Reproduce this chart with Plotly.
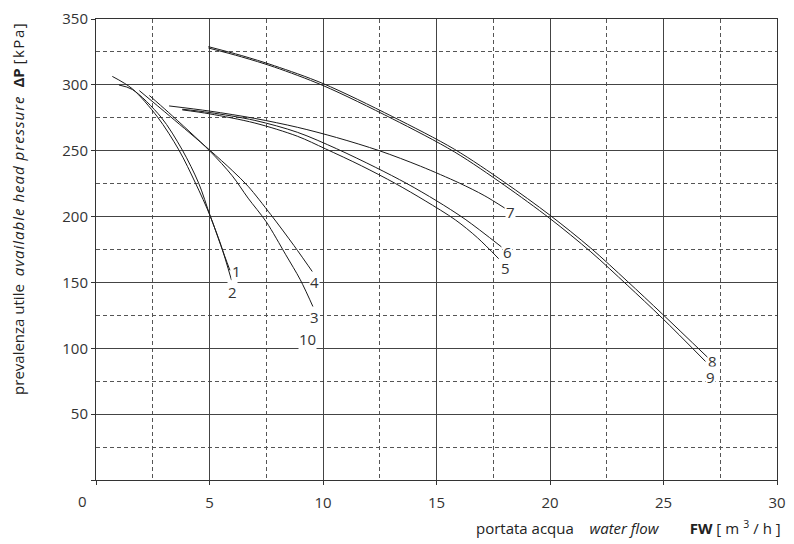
import plotly.graph_objects as go

# ---- data ----
c1_x = [0.72, 1.6, 2.71, 3.65, 4.38, 5.03, 5.5, 5.9]
c1_y = [306.4, 297.0, 275.6, 250.6, 225.5, 200.5, 178.0, 159.2]
c2_x = [1.01, 1.6, 2.86, 3.8, 4.52, 5.03, 5.5, 5.97]
c2_y = [299.9, 296.5, 275.6, 250.6, 225.5, 200.5, 178.5, 151.7]
c3_x = [2.35, 3.2, 5.0, 6.0, 6.7, 7.5, 8.36, 9.0, 9.6]
c3_y = [291.9, 279.0, 250.0, 231.0, 214.0, 196.0, 171.0, 152.0, 130.0]
c4_x = [1.91, 3.25, 5.0, 6.0, 6.7, 7.7, 8.72, 9.62]
c4_y = [295.6, 276.3, 250.6, 235.0, 223.0, 201.5, 178.0, 156.0]
c5_x = [3.8, 5.0, 7.0, 8.87, 10.1, 11.7, 13.2, 14.5, 15.83, 16.8, 17.74]
c5_y = [281.0, 278.0, 271.0, 261.0, 251.5, 238.5, 225.0, 212.0, 197.5, 184.0, 168.0]
c6_x = [3.8, 5.0, 7.0, 8.87, 10.6, 12.3, 13.7, 15.0, 16.26, 17.86]
c6_y = [281.5, 279.0, 273.0, 264.0, 251.5, 237.5, 225.0, 212.0, 198.0, 177.0]
c7_x = [3.22, 5.0, 7.0, 8.87, 10.6, 12.5, 14.3, 16.0, 17.1, 18.0]
c7_y = [284.0, 280.1, 274.5, 267.8, 260.0, 249.9, 238.2, 225.5, 216.0, 206.5]
c8_x = [4.95, 6.4, 7.86, 10.0, 13.05, 15.8, 18.0, 20.0, 21.8, 23.4, 24.95, 26.95]
c8_y = [329.0, 322.3, 314.5, 301.0, 276.0, 251.0, 226.0, 201.0, 176.0, 151.0, 126.0, 93.0]
c9_x = [4.95, 6.4, 7.86, 10.0, 13.05, 15.8, 18.0, 20.0, 21.8, 23.4, 24.95, 26.85]
c9_y = [328.0, 321.3, 313.5, 299.5, 274.3, 249.0, 223.7, 198.5, 173.2, 148.0, 122.8, 90.0]

curves = [(c1_x, c1_y), (c2_x, c2_y), (c3_x, c3_y), (c4_x, c4_y), (c5_x, c5_y),
          (c6_x, c6_y), (c7_x, c7_y), (c8_x, c8_y), (c9_x, c9_y)]

label_text = ["1", "2", "3", "4", "10", "5", "6", "7", "8", "9"]
label_x = [6.19, 6.0, 9.64, 9.64, 9.3, 18.03, 18.14, 18.26, 27.16, 27.06]
label_y = [158.7, 142.9, 123.4, 150.4, 107.1, 161.0, 173.0, 203.5, 90.4, 78.3]

x_ticks = [0, 5, 10, 15, 20, 25, 30]
x_ticktext = ["", "5", "10", "15", "20", "25", "30"]
y_ticks = [0, 50, 100, 150, 200, 250, 300, 350]
y_ticktext = ["", "50", "100", "150", "200", "250", "300", "350"]

FONT = "Open Sans"
NB = "\u00a0"
fig = go.Figure()
for cx, cy in curves:
    fig.add_trace(go.Scatter(x=cx, y=cy, mode="lines",
                             line=dict(color="#1a1a1a", width=1, shape="spline", smoothing=0.9),
                             showlegend=False, hoverinfo="skip"))

for t, lx, ly in zip(label_text, label_x, label_y):
    fig.add_annotation(x=lx, y=ly, text=t, showarrow=False, bgcolor="white",
                       xanchor="center", yanchor="middle",
                       borderpad=0, font=dict(family=FONT, size=15, color="#333"))

fig.add_annotation(xref="paper", yref="paper", x=0, y=0, xshift=-14, yshift=-21,
                   xanchor="center", yanchor="middle",
                   text="0", showarrow=False, font=dict(family=FONT, size=15, color="#333"))
fig.add_annotation(xref="paper", yref="paper", x=1, y=0, xanchor="right", yanchor="middle",
                   xshift=10, yshift=-47, showarrow=False,
                   text="portata acqua" + NB * 4 + "<i>water flow</i>" + NB * 8
                        + "<b>FW</b> <span style='letter-spacing:4px'>[m<sup>3</sup>/h]</span>",
                   font=dict(family=FONT, size=15, color="#222"))
fig.add_annotation(xref="paper", yref="paper", x=0, y=0.588, xshift=-78, xanchor="center",
                   yanchor="middle", textangle=-90, showarrow=False,
                   text="prevalenza utile" + NB * 2
                        + "<span style='letter-spacing:1px'><i>available head pressure</i></span>"
                        + NB * 2 + "<b>ΔP</b> <span style='letter-spacing:1.5px'>[kPa]</span>",
                   font=dict(family=FONT, size=15, color="#222"))

fig.update_xaxes(range=[0, 30], tickvals=x_ticks, ticktext=x_ticktext,
                 showgrid=True, gridcolor="#444", gridwidth=1,
                 minor=dict(dtick=2.5, tick0=0, showgrid=True, gridcolor="#555",
                            griddash="4px,3px", gridwidth=1),
                 showline=True, linecolor="#333", linewidth=1, mirror=True,
                 ticks="outside", ticklen=4, tickcolor="#333", ticklabelstandoff=5,
                 zeroline=False, tickfont=dict(family=FONT, size=15, color="#333"))
fig.update_yaxes(range=[0, 350], tickvals=y_ticks, ticktext=y_ticktext,
                 showgrid=True, gridcolor="#444", gridwidth=1,
                 minor=dict(dtick=25, tick0=0, showgrid=True, gridcolor="#555",
                            griddash="4px,3px", gridwidth=1),
                 showline=True, linecolor="#333", linewidth=1, mirror=True,
                 ticks="outside", ticklen=4, tickcolor="#333",
                 zeroline=False, tickfont=dict(family=FONT, size=15, color="#333"))

fig.update_layout(width=794, height=544, margin=dict(l=96, r=8, t=14, b=64),
                  paper_bgcolor="white", plot_bgcolor="white",
                  font=dict(family=FONT, size=15, color="#333"))

fig.write_html("out.html")
